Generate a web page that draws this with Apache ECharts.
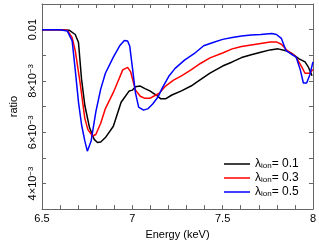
<!DOCTYPE html>
<html><head><meta charset="utf-8">
<script src="https://cdn.jsdelivr.net/npm/echarts@6/dist/echarts.min.js"></script>
<style>html,body{margin:0;padding:0;background:#fff}#c{width:319px;height:245px}</style>
</head><body><div id="c"></div>
<script>
const xTickLabels = ['6.5','7','7.5','8'];
const yTickLabels = {'0.004':'4×10{sup|−3}','0.006':'6×10{sup|−3}','0.008':'8×10{sup|−3}','0.01':'0.01'};
const legendValues = ['0.1','0.3','0.5'];
const seriesNames = ['l01','l03','l05'];

const blackE = [6.5,6.6,6.65,6.684,6.702,6.719,6.737,6.763,6.789,6.807,6.825,6.851,6.895,6.938,6.983,7.0,7.017,7.044,7.070,7.097,7.132,7.158,7.184,7.219,7.272,7.325,7.377,7.430,7.5,7.553,7.605,7.658,7.711,7.763,7.807,7.851,7.886,7.921,7.956,7.974,7.995];
const blackV = [0.0100,0.0100,0.00998,0.00981,0.00950,0.00806,0.00705,0.00618,0.00572,0.00560,0.00562,0.00579,0.00623,0.00717,0.00761,0.00764,0.00777,0.00780,0.00770,0.00761,0.00745,0.00730,0.00730,0.00745,0.00761,0.00780,0.00805,0.00830,0.00858,0.00874,0.00891,0.00902,0.00912,0.00921,0.00925,0.00918,0.00906,0.00887,0.00874,0.00855,0.00820];

const redE = [6.5,6.6,6.64,6.667,6.684,6.711,6.737,6.754,6.780,6.798,6.825,6.851,6.895,6.921,6.947,6.974,6.991,7.017,7.044,7.070,7.097,7.123,7.149,7.184,7.228,7.272,7.325,7.377,7.430,7.5,7.553,7.605,7.658,7.711,7.763,7.798,7.825,7.859,7.904,7.938,7.956,7.983,8.0];
const redV = [0.0100,0.0100,0.00998,0.00969,0.00918,0.00792,0.00654,0.00610,0.00585,0.00591,0.00635,0.00692,0.00755,0.00799,0.00843,0.00853,0.00835,0.00765,0.00740,0.00732,0.00732,0.00742,0.00752,0.00780,0.00803,0.00820,0.00843,0.00868,0.00890,0.00909,0.00925,0.00934,0.00940,0.00946,0.00952,0.00952,0.00943,0.00918,0.00896,0.00855,0.00830,0.00830,0.00845];

const blueE = [6.5,6.6,6.64,6.667,6.684,6.702,6.719,6.737,6.751,6.772,6.798,6.825,6.851,6.895,6.930,6.956,6.974,6.986,7.0,7.017,7.035,7.062,7.088,7.114,7.141,7.167,7.202,7.237,7.289,7.342,7.395,7.447,7.5,7.553,7.605,7.658,7.711,7.772,7.798,7.825,7.851,7.877,7.907,7.930,7.947,7.965,7.983,8.0];
const blueV = [0.0100,0.0100,0.00995,0.00956,0.00843,0.00717,0.00629,0.00566,0.00526,0.00566,0.00679,0.00768,0.00830,0.00893,0.00937,0.00958,0.00956,0.00935,0.00855,0.00755,0.00698,0.00686,0.00692,0.00711,0.00736,0.00774,0.00818,0.00849,0.00881,0.00906,0.00937,0.00950,0.00962,0.00969,0.00975,0.00979,0.00981,0.00985,0.00981,0.00966,0.00918,0.00906,0.00893,0.00843,0.00792,0.00792,0.00824,0.00874];

const colors = ['#000000','#ff0000','#0000ff'];
const zip = (a,b) => a.map((v,i)=>[v,b[i]]);
const FONT = 'Liberation Sans';

const chart = echarts.init(document.getElementById('c'));
const axisLine = {show:true, lineStyle:{color:'#666', width:1}};
const tick = {show:true, inside:true, length:4, lineStyle:{color:'#666'}};
const xFmt = v => { const r = Math.round(v*10)/10; const s = String(r); return xTickLabels.includes(s) ? s : ''; };
const yFmt = v => { const k = String(Math.round(v*1000)/1000); return yTickLabels[k] || ''; };

chart.setOption({
  animation:false,
  textStyle:{fontFamily:FONT},
  grid:{left:30, right:4, top:4, bottom:29, containLabel:false},
  xAxis:[
    {type:'value', min:6.5, max:8, interval:0.1, position:'bottom',
     axisLine, axisTick:tick, splitLine:{show:false},
     axisLabel:{formatter:xFmt, color:'#000', fontSize:11, margin:4, fontFamily:FONT, showMinLabel:true, showMaxLabel:true},
     name:'Energy (keV)', nameLocation:'middle', nameGap:15, nameTextStyle:{color:'#000', fontSize:11, fontFamily:FONT}},
    {type:'value', min:6.5, max:8, interval:0.1, position:'top',
     axisLine, axisTick:tick, axisLabel:{show:false}, splitLine:{show:false}}
  ],
  yAxis:[
    {type:'value', min:0.003, max:0.011, interval:0.001, position:'left',
     axisLine, axisTick:tick, splitLine:{show:false},
     axisLabel:{formatter:yFmt, rotate:90, color:'#000', fontSize:11, margin:4, fontFamily:FONT,
       rich:{sup:{fontSize:8, verticalAlign:'top', lineHeight:8, fontFamily:FONT, color:'#000'}}},
     name:'ratio', nameLocation:'middle', nameGap:23, nameTextStyle:{color:'#000', fontSize:11, fontFamily:FONT}},
    {type:'value', min:0.003, max:0.011, interval:0.001, position:'right',
     axisLine, axisTick:tick, axisLabel:{show:false}, splitLine:{show:false}}
  ],
  legend:{
    left:219, top:153, orient:'vertical', itemWidth:26, itemHeight:1.5, itemGap:2, icon:'rect',
    data:seriesNames,
    formatter: n => `{n|λ}{s|ion}{n|= ${legendValues[seriesNames.indexOf(n)]}}`,
    textStyle:{color:'#000', fontSize:12, fontFamily:FONT,
      rich:{n:{fontSize:12, lineHeight:12, fontFamily:FONT, color:'#000'},
            s:{fontSize:8, lineHeight:8, verticalAlign:'bottom', fontFamily:FONT, color:'#000'}}}
  },
  series:[
    {name:seriesNames[0], type:'line', data:zip(blackE,blackV), color:colors[0], showSymbol:false, symbol:'none', lineStyle:{width:1.5, color:colors[0]}},
    {name:seriesNames[1], type:'line', data:zip(redE,redV), color:colors[1], showSymbol:false, symbol:'none', lineStyle:{width:1.5, color:colors[1]}},
    {name:seriesNames[2], type:'line', data:zip(blueE,blueV), color:colors[2], showSymbol:false, symbol:'none', lineStyle:{width:1.5, color:colors[2]}}
  ]
});
</script></body></html>
